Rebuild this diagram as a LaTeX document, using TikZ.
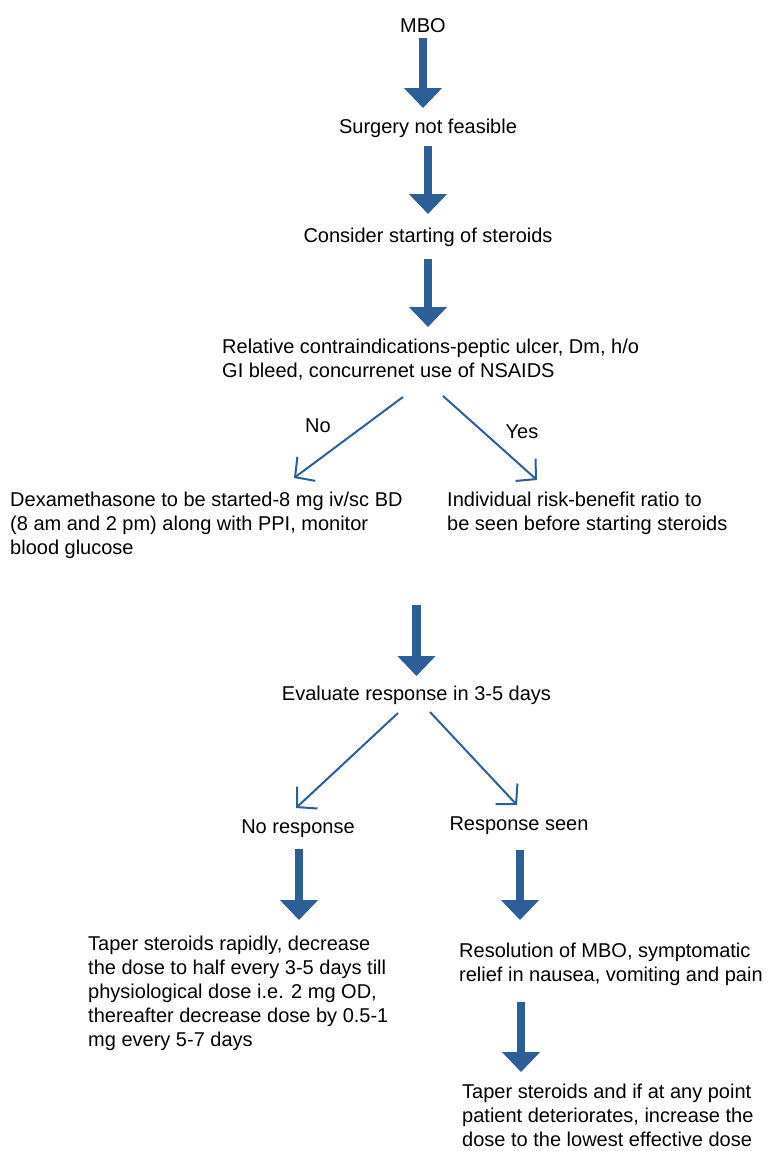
\documentclass[tikz,border=0pt]{standalone}
\usepackage{fontspec}
\setmainfont{Liberation Sans}
\usetikzlibrary{arrows.meta,calc}
\definecolor{ablue}{RGB}{46,94,152}
\tikzset{
  txt/.style={inner sep=0pt, font=\fontsize{20}{24}\selectfont, text=black},
  mtxt/.style={txt, align=left, anchor=north west},
  blk/.style={draw=ablue, line width=8.5pt, -{Triangle[width=37pt,length=20pt]}},
  thinarr/.style={draw=ablue, line width=2pt, -{Straight Barb[length=14pt,width=30pt,line width=2pt]}}
}
\begin{document}
\begin{tikzpicture}[x=1pt,y=-1pt]
\useasboundingbox (0,0) rectangle (768,1151);
% text nodes
\node[txt, anchor=base] (mbo) at (423,32) {MBO};
\node[txt, anchor=base] (surg) at (428,133) {Surgery not feasible};
\node[txt, anchor=base] (cons) at (428,242) {Consider starting of steroids};
\node[mtxt] (rel) at (222,338.5) {Relative contraindications-peptic ulcer, Dm, h/o\\GI bleed, concurrenet use of NSAIDS};
\node[txt, anchor=base] (no) at (318,432) {No};
\node[txt, anchor=base] (yes) at (522,438) {Yes};
\node[mtxt] (dex) at (10,491.5) {Dexamethasone to be started-8 mg iv/sc BD\\(8 am and 2 pm) along with PPI, monitor\\blood glucose};
\node[mtxt] (risk) at (447,491.5) {Individual risk-benefit ratio to\\be seen before starting steroids};
\node[txt, anchor=base] (eval) at (416.5,700) {Evaluate response in 3-5 days};
\node[txt, anchor=base] (nores) at (298,833) {No response};
\node[txt, anchor=base] (seen) at (519,830) {Response seen};
\node[mtxt] (taperL) at (88,935.5) {Taper steroids rapidly, decrease\\the dose to half every 3-5 days till\\physiological dose i.e. 2 mg OD,\\thereafter decrease dose by 0.5-1\\mg every 5-7 days};
\node[mtxt] (resol) at (459,942.5) {Resolution of MBO, symptomatic\\relief in nausea, vomiting and pain};
\node[mtxt] (taperR) at (462,1084) {Taper steroids and if at any point\\patient deteriorates, increase the\\dose to the lowest effective dose};
% block arrows
\draw[blk] (mbo.base) ++(0,6) -- ++(0,70);
\draw[blk] (surg.base) ++(0,13) -- ++(0,68);
\draw[blk] (cons.base) ++(0,17) -- ++(0,68);
\draw[blk] (eval.base) ++(0,-95) -- ++(0,71);
\draw[blk] (nores.base) ++(1,16) -- ++(0,71);
\draw[blk] (seen.base) ++(1,20) -- ++(0,70);
\draw[blk] (seen.base) ++(2,172) -- ++(0,70);
% thin arrows
\draw[thinarr] ($(rel.south west)+(181,17)$) -- ($(dex.north west)+(284,-13.5)$);
\draw[thinarr] ($(rel.south west)+(221,16)$) -- ($(risk.north west)+(90,-11.5)$);
\draw[thinarr] ($(eval.base)+(-18.5,13)$) -- ($(nores.base)+(-2,-25)$);
\draw[thinarr] ($(eval.base)+(13.5,12)$) -- ($(seen.base)+(-2,-25)$);
\end{tikzpicture}
\end{document}
